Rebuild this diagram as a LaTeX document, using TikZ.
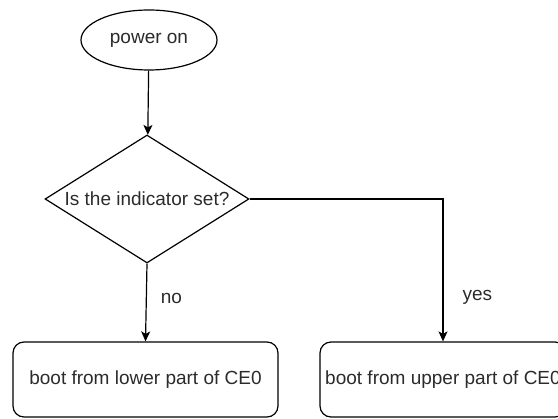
\documentclass[tikz,border=0pt]{standalone}
\usepackage{fontspec}
\setmainfont{Liberation Sans}
\usepackage{xcolor}
\usetikzlibrary{arrows.meta, positioning, shapes.geometric}
\definecolor{inkgrey}{HTML}{2b2b2b}

\begin{document}
\begin{tikzpicture}[x=1pt, y=-1pt, >={Stealth[length=10pt, width=9pt, inset=2.5pt]},
    font=\fontsize{19}{22}\selectfont, line width=1.2pt,
    every node/.style={text=inkgrey},
    startbox/.style={ellipse, draw, inner sep=0pt,
      minimum width=136pt, minimum height=60pt},
    decision/.style={diamond, draw, inner sep=0pt, aspect=1.6,
      minimum width=204pt, minimum height=128pt},
    bootbox/.style={rectangle, rounded corners=11pt, draw,
      inner sep=0pt, minimum height=75pt},
    edgelbl/.style={anchor=west, inner sep=0pt}]

  \useasboundingbox (0,0) rectangle (558,419);
  \clip (0,0) rectangle (558,419);

  % start
  \node[startbox] (power) at (149, 40) {power on};

  % the check
  \node[decision] (check) at (147, 199) {Is the indicator set?};

  % the two ways to boot
  \node[bootbox, minimum width=265pt] (lower) at (145.5, 379.5)
    {boot from lower part of CE0};
  \node[bootbox, minimum width=246pt] (upper) at (443, 379.5)
    {boot from upper part of CE0};

  \draw[->] (power) -- (check);
  \draw[->] (check.south) -- node[edgelbl, pos=0.45, xshift=14pt] {no} (lower.north);
  \draw[->] (check.east) -| node[edgelbl, pos=0.845, xshift=19pt] {yes} (upper.north);
\end{tikzpicture}
\end{document}
